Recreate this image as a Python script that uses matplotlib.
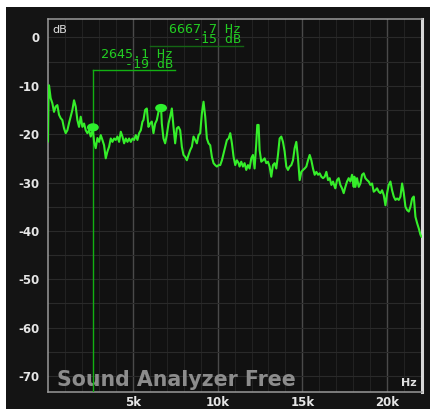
import matplotlib
matplotlib.use("Agg")
import matplotlib.pyplot as plt
from matplotlib.patches import Rectangle, Ellipse

# ---- data ----
freq_hz = [0, 40, 60, 158, 256, 354, 453, 551, 650, 748, 846, 945, 1043, 1142, 1240, 1338, 1437,
           1535, 1634, 1732, 1830, 1929, 2027, 2126, 2224, 2322, 2421, 2519, 2645, 2716, 2814,
           2913, 3011, 3110, 3208, 3306, 3405, 3503, 3602, 3700, 3798, 3897, 3995, 4094, 4192,
           4290, 4389, 4487, 4586, 4684, 4782, 4881, 4979, 5078, 5176, 5274, 5373, 5471, 5570,
           5628, 5726, 5825, 5923, 6021, 6120, 6218, 6317, 6415, 6513, 6612, 6668, 6710, 6809,
           6907, 7005, 7104, 7202, 7301, 7399, 7497, 7596, 7694, 7793, 7891, 7989, 8088, 8186,
           8285, 8383, 8481, 8580, 8678, 8777, 8875, 8973, 9072, 9170, 9269, 9367, 9465, 9564,
           9662, 9761, 9859, 9957, 10056, 10154, 10253, 10351, 10449, 10548, 10646, 10745,
           10843, 10941, 11040, 11138, 11237, 11295, 11393, 11492, 11590, 11688, 11787, 11885,
           11984, 12082, 12180, 12279, 12338, 12417, 12476, 12574, 12672, 12771, 12869, 12968,
           13066, 13164, 13263, 13361, 13460, 13558, 13656, 13755, 13853, 13952, 14050, 14148,
           14247, 14345, 14444, 14542, 14640, 14739, 14837, 14936, 15034, 15132, 15231, 15329,
           15428, 15526, 15624, 15723, 15821, 15920, 16018, 16116, 16215, 16313, 16412, 16510,
           16608, 16707, 16805, 16904, 16941, 17040, 17138, 17236, 17335, 17433, 17532, 17630,
           17728, 17827, 17925, 18024, 18063, 18122, 18220, 18319, 18417, 18516, 18614, 18712,
           18811, 18909, 19008, 19106, 19204, 19303, 19401, 19500, 19598, 19696, 19795, 19893,
           19992, 20090, 20188, 20287, 20385, 20484, 20582, 20680, 20779, 20877, 20976, 21074,
           21172, 21271, 21369, 21468, 21566, 21664, 21763, 21861, 21960, 22019]
level_db = [-21.5, -10.0, -9.9, -12.6, -13.6, -15.4, -14.3, -14.0, -16.0, -16.7, -17.1, -18.8,
            -19.8, -19.2, -17.7, -16.4, -15.0, -13.0, -14.3, -17.1, -18.5, -16.4, -18.5, -17.8,
            -19.2, -19.8, -19.2, -20.5, -19.0, -21.6, -22.9, -20.8, -21.6, -20.2, -21.2, -22.3,
            -25.0, -23.6, -22.6, -20.9, -21.6, -20.9, -21.2, -20.5, -21.6, -19.5, -20.5, -21.9,
            -20.9, -21.6, -20.9, -21.6, -20.9, -21.2, -20.2, -21.2, -19.8, -19.2, -17.4,
            -17.1, -15.0, -14.7, -18.5, -17.8, -17.4, -19.8, -17.8, -17.1, -15.4, -14.7, -14.5,
            -17.8, -20.9, -21.9, -20.2, -17.8, -16.4, -14.7, -18.5, -21.9, -18.8, -18.5, -19.2,
            -22.6, -24.3, -24.7, -25.4, -24.3, -23.3, -22.6, -20.5, -21.2, -21.9, -20.2, -19.8,
            -15.7, -13.3, -16.4, -20.9, -21.9, -22.3, -24.7, -26.0, -26.4, -26.7, -26.4, -26.4,
            -25.4, -24.0, -22.6, -21.2, -20.9, -19.8, -21.9, -24.7, -26.4, -25.4, -26.0,
            -26.7, -25.7, -26.7, -26.0, -27.4, -26.4, -27.1, -25.0, -24.3, -27.1, -21.9, -18.1,
            -18.1, -23.3, -25.7, -25.4, -25.0, -26.0, -25.7, -26.7, -28.8, -26.4, -26.0, -27.1,
            -24.3, -20.9, -20.5, -21.6, -23.6, -26.7, -27.4, -26.7, -26.4, -25.4, -22.9, -21.6,
            -25.0, -29.5, -27.8, -27.4, -27.1, -26.7, -25.4, -24.3, -25.4, -27.1, -28.4, -27.8,
            -28.4, -28.1, -28.8, -29.1, -28.8, -27.8, -29.5, -29.1, -30.5, -29.8, -30.9,
            -31.2, -29.5, -29.1, -30.5, -31.2, -32.2, -30.9, -29.8, -29.1, -29.8, -28.4, -30.9,
            -28.8, -30.9, -29.1, -30.9, -30.2, -28.4, -28.1, -29.1, -29.5, -29.8, -30.5, -30.2,
            -31.9, -31.6, -31.2, -31.9, -32.2, -31.6, -32.6, -34.7, -32.2, -30.5, -29.8, -31.6,
            -32.9, -33.6, -33.3, -33.6, -32.9, -30.2, -32.2, -35.0, -35.7, -36.0, -35.0, -33.3,
            -32.9, -37.1, -38.4, -39.5, -40.8, -41.2]

marker_freqs = [2645.1, 6667.7]
marker_dbs = [-19, -15]
marker_labels_hz = ["2645.1 Hz", "6667.7 Hz"]
marker_labels_db = ["-19 dB", "-15 dB"]

y_ticks = [0, -10, -20, -30, -40, -50, -60, -70]
y_ticklabels = ["0", "-10", "-20", "-30", "-40", "-50", "-60", "-70"]
x_ticks = [5000, 10000, 15000, 20000]
x_ticklabels = ["5k", "10k", "15k", "20k"]

# ---- figure ----
W, H = 433, 409
fig = plt.figure(figsize=(W / 100, H / 100), dpi=100, facecolor="white")
bg = Rectangle((6 / W, 0), (430 - 6) / W, (H - 7) / H,
               transform=fig.transFigure, facecolor="#141414",
               edgecolor="none", zorder=-10)
fig.add_artist(bg)

ax = fig.add_axes([48 / W, (H - 392) / H, (422 - 48) / W, (392 - 19) / H])
ax.set_zorder(1)
ax.set_facecolor("#111111")
ax.set_xlim(0, 22050)
ax.set_ylim(-73.3, 3.8)

# grid
for f in range(1000, 22001, 1000):
    major = (f % 5000 == 0)
    ax.axvline(f, color="#4a4a4a" if major else "#222222",
               lw=1.0 if major else 0.8, zorder=1)
for d in range(0, -75, -5):
    ax.axhline(d, color="#2a2a2a", lw=0.8, zorder=1)

# spines
for s in ["left", "top", "bottom"]:
    ax.spines[s].set_color("#9a9a9a")
    ax.spines[s].set_linewidth(1.1)
ax.spines["right"].set_color("#d8d8d8")
ax.spines["right"].set_linewidth(2.2)

ax.set_yticks(y_ticks)
ax.set_yticklabels(y_ticklabels)
ax.set_xticks(x_ticks)
ax.set_xticklabels(x_ticklabels)
ax.tick_params(length=0, colors="#e6e6e6", labelsize=8.5)
ax.tick_params(axis="y", pad=6)
ax.tick_params(axis="x", pad=3)
for lab in ax.get_xticklabels() + ax.get_yticklabels():
    lab.set_fontweight("bold")

# watermark
ax.text(0.024, 0.016, "Sound Analyzer Free", transform=ax.transAxes,
        color="#8c8c8c", fontsize=14.8, fontweight="bold", ha="left", va="baseline",
        zorder=2)

# spectrum
ax.plot(freq_hz, level_db, color="#35ee2a", lw=1.5, zorder=4, solid_joinstyle="round")

# markers
gc = "#22cc22"
mono = "DejaVu Sans Mono"
f1, d1 = marker_freqs[0], marker_dbs[0]
ax.plot([f1, f1], [-73.3, -6.8], color="#12b012", lw=1.0, zorder=3)
ax.plot([f1, 7500], [-6.8, -6.8], color="#12b012", lw=1.0, zorder=3)
ax.text(7350, -6.3, marker_labels_hz[0] + "\n" + marker_labels_db[0], color=gc,
        fontsize=9.5, family=mono, ha="right", va="baseline", multialignment="right",
        linespacing=0.72, zorder=5)

f2, d2 = marker_freqs[1], marker_dbs[1]
ax.plot([6000, 11500], [-1.75, -1.75], color="#146614", lw=1.0, zorder=3)
ax.text(11350, -1.2, marker_labels_hz[1] + "\n" + marker_labels_db[1], color=gc,
        fontsize=9.5, family=mono, ha="right", va="baseline", multialignment="right",
        linespacing=0.72, zorder=5)

for f, d in zip(marker_freqs, marker_dbs):
    ax.add_patch(Ellipse((f, d + 0.4), 700, 1.7, facecolor="#2ef02e",
                         edgecolor="none", zorder=6))

# axis unit labels
ax.text(0.013, 0.985, "dB", transform=ax.transAxes, color="#e0e0e0", fontsize=8,
        ha="left", va="top", zorder=5)
ax.text(0.985, 0.01, "Hz", transform=ax.transAxes, color="#e0e0e0", fontsize=8,
        fontweight="bold", ha="right", va="bottom", zorder=5)

fig.savefig("out.png", dpi=100, facecolor="white")
